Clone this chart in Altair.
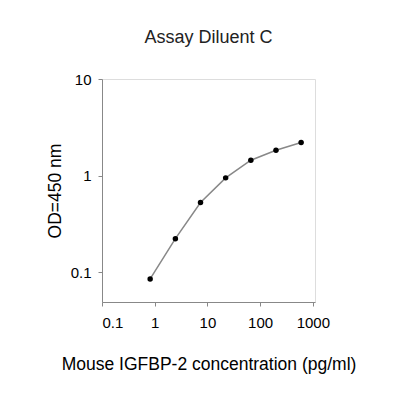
import altair as alt
import pandas as pd

conc = [0.82, 2.47, 7.4, 22.2, 66.7, 200, 600]
od = [0.085, 0.222, 0.525, 0.946, 1.44, 1.83, 2.2]
x_ticks = [0.1, 1, 10, 100, 1000]
y_ticks = [0.1, 1, 10]

df = pd.DataFrame({"conc": conc, "od": od})

FONT = "Liberation Sans"
GRAY = "#9a9a9a"

x = alt.X("conc:Q", scale=alt.Scale(type="log", domain=[0.1, 1100], nice=False),
          axis=alt.Axis(values=x_ticks, format="~g", title="Mouse IGFBP-2 concentration (pg/ml)",
                        grid=False, tickSize=4, labelPadding=9, labelFontSize=15,
                        titleFontSize=17.5, titleFontWeight="normal", titleY=67.5,
                        titleBaseline="alphabetic"))
y = alt.Y("od:Q", scale=alt.Scale(type="log", domain=[0.049, 10], nice=False),
          axis=alt.Axis(values=y_ticks, format="~g", title="OD=450 nm",
                        grid=False, tickSize=4, labelPadding=7, labelFontSize=15,
                        titleFontSize=17.5, titleFontWeight="normal", titleX=-42, titleY=111.5,
                        titleAngle=270, titleAlign="center", titleBaseline="alphabetic"))

base = alt.Chart(df)
line = base.mark_line(color="#888888", strokeWidth=1.5).encode(x=x, y=y)
pts = base.mark_circle(color="black", size=30, opacity=1).encode(x=x, y=y)

chart = alt.layer(line, pts).properties(
    width=213, height=223,
    title=alt.TitleParams("Assay Diluent C", fontSize=18, fontWeight="normal", font=FONT,
                          color="#222222", baseline="alphabetic", offset=11, anchor="middle"),
    autosize=alt.AutoSizeParams(type="none"),
    padding={"left": 94, "top": 71, "right": 70, "bottom": 90},
).configure_view(stroke=GRAY, strokeWidth=1).configure_axis(
    labelFont=FONT, titleFont=FONT, labelColor="#222222", titleColor="#222222",
    domainColor=GRAY, tickColor=GRAY, domainWidth=1,
).configure(background="white")

chart.save("out.html", embed_options={"renderer": "svg", "actions": False})
